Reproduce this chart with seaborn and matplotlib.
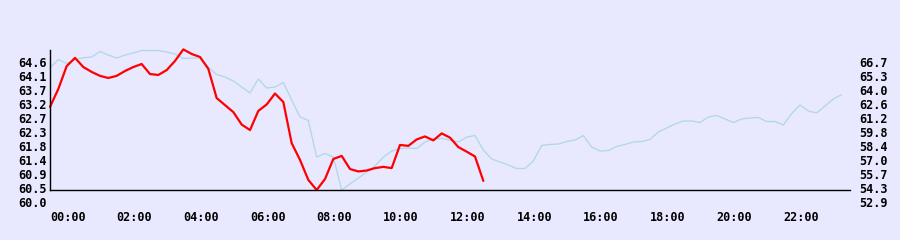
import numpy as np
import pandas as pd
import matplotlib
matplotlib.use("Agg")
import matplotlib.pyplot as plt
import matplotlib.transforms as mtransforms
import seaborn as sns

# ---- data (15-minute samples starting at 00:00) ----
red_values = [62.73, 63.32, 64.07, 64.34, 64.04, 63.88, 63.75, 63.68, 63.75, 63.91,
              64.04, 64.14, 63.81, 63.78, 63.94, 64.24, 64.62, 64.47, 64.37, 63.98,
              63.02, 62.79, 62.56, 62.15, 61.97, 62.60, 62.81, 63.17, 62.89, 61.54,
              60.99, 60.33, 60.00, 60.36, 61.02, 61.12, 60.69, 60.61, 60.64, 60.72,
              60.76, 60.72, 61.48, 61.45, 61.66, 61.76, 61.63, 61.86, 61.72, 61.41,
              61.26, 61.10, 60.30]
blue_values = [64.93, 65.76, 65.37, 65.76, 65.94, 66.01, 66.55, 66.21, 65.91, 66.21,
               66.40, 66.65, 66.65, 66.65, 66.50, 66.31, 65.86, 65.91, 65.91, 65.02,
               64.28, 64.04, 63.64, 63.05, 62.46, 63.84, 62.95, 63.05, 63.50, 61.77,
               60.10, 59.75, 56.15, 56.50, 56.15, 52.90, 53.49, 54.08, 54.67, 55.27,
               56.15, 56.74, 56.99, 57.04, 56.99, 57.63, 57.93, 57.98, 57.83, 57.63,
               58.12, 58.27, 56.84, 55.96, 55.66, 55.36, 55.02, 55.02, 55.76, 57.29,
               57.39, 57.43, 57.68, 57.83, 58.27, 57.14, 56.74, 56.79, 57.19, 57.39,
               57.63, 57.68, 57.88, 58.62, 59.01, 59.41, 59.70, 59.70, 59.55, 60.10,
               60.24, 59.90, 59.55, 59.90, 60.00, 60.05, 59.65, 59.65, 59.31, 60.44,
               61.28, 60.69, 60.49, 61.18, 61.87, 62.31]
sample_minutes = 15

left_tick_labels = ["60.0", "60.5", "60.9", "61.4", "61.8", "62.3",
                    "62.7", "63.2", "63.7", "64.1", "64.6"]
right_tick_labels = ["52.9", "54.3", "55.7", "57.0", "58.4", "59.8",
                     "61.2", "62.6", "64.0", "65.3", "66.7"]
x_tick_hours = [0, 2, 4, 6, 8, 10, 12, 14, 16, 18, 20, 22]
x_tick_labels = ["00:00", "02:00", "04:00", "06:00", "08:00", "10:00",
                 "12:00", "14:00", "16:00", "18:00", "20:00", "22:00"]
left_range = (60.0, 64.6)
right_range = (52.9, 66.7)

# ---- style ----
sns.set_theme(style="white")
plt.rcParams['font.family'] = ['DejaVu Sans Mono']
plt.rcParams['font.weight'] = 'bold'

bg = '#E8E8FF'
fig = plt.figure(figsize=(9, 2.4), dpi=100, facecolor=bg)
ax = fig.add_axes([50 / 900, 50 / 240, 800 / 900, 140 / 240])
ax2 = ax.twinx()

red_df = pd.DataFrame({"hour": np.arange(len(red_values)) * sample_minutes / 60,
                       "value": red_values})
blue_df = pd.DataFrame({"hour": np.arange(len(blue_values)) * sample_minutes / 60,
                        "value": blue_values})

sns.lineplot(data=blue_df, x="hour", y="value", ax=ax2, color="#ADD8E6",
             linewidth=0.9, legend=False, clip_on=False)
sns.lineplot(data=red_df, x="hour", y="value", ax=ax, color="#FF0000",
             linewidth=1.6, legend=False, clip_on=False)

ax.set_zorder(ax2.get_zorder() + 1)
ax.patch.set_visible(False)
ax2.patch.set_visible(False)

ax.set_xlim(0, 24)
ax.set_ylim(*left_range)
ax2.set_ylim(*right_range)
ax.set_xlabel("")
ax.set_ylabel("")
ax2.set_ylabel("")

ax.set_yticks(np.linspace(left_range[0], left_range[1], len(left_tick_labels)),
              left_tick_labels)
ax2.set_yticks(np.linspace(right_range[0], right_range[1], len(right_tick_labels)),
               right_tick_labels)
ax.set_xticks(x_tick_hours, x_tick_labels)

fs = 8.5
ax.tick_params(axis='y', length=0, pad=2.2, labelsize=fs, colors='black')
ax2.tick_params(axis='y', length=0, pad=6.5, labelsize=fs, colors='black')
ax.tick_params(axis='x', length=0, pad=14.8, labelsize=fs, colors='black')

shift = mtransforms.ScaledTranslation(0, -12 / 100, fig.dpi_scale_trans)
for lab in ax.get_yticklabels():
    lab.set_transform(lab.get_transform() + shift)
for lab in ax2.get_yticklabels():
    lab.set_transform(lab.get_transform() + shift)
for lab in ax.get_xticklabels():
    lab.set_horizontalalignment('left')

for s in ['top', 'right']:
    ax.spines[s].set_visible(False)
for s in ['left', 'bottom']:
    ax.spines[s].set_visible(True)
    ax.spines[s].set_color('black')
    ax.spines[s].set_linewidth(1.0)
for s in ax2.spines.values():
    s.set_visible(False)
ax.grid(False)
ax2.grid(False)

fig.savefig("out.png", dpi=100, facecolor=bg)
